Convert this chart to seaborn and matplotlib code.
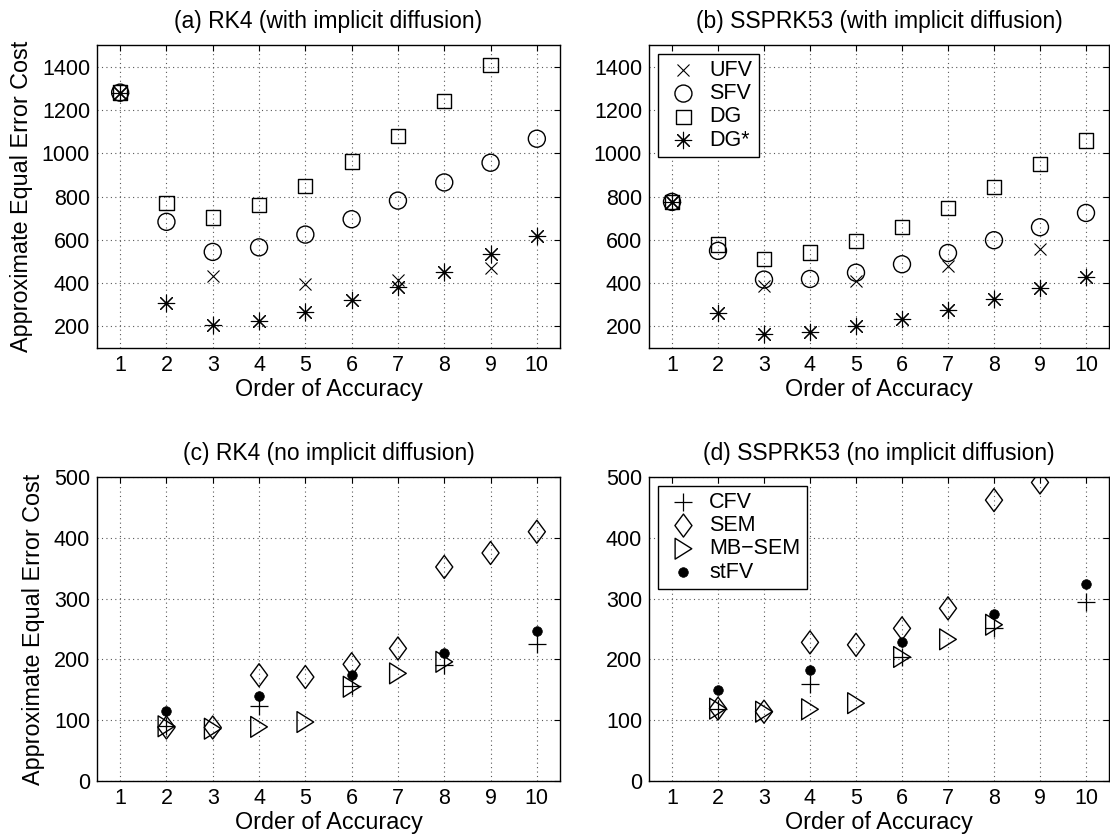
import numpy as np
import pandas as pd
import matplotlib
matplotlib.use("Agg")
import matplotlib.pyplot as plt
from matplotlib.path import Path
import seaborn as sns

nan = np.nan
orders = [1, 2, 3, 4, 5, 6, 7, 8, 9, 10]

# (a) RK4 with implicit diffusion
a_ufv = [1280, nan, 431, nan, 394, nan, 412, nan, 471, nan]
a_sfv = [1280, 683, 544, 565, 624, 695, 781, 865, 956, 1067]
a_dg = [1280, 769, 703, 761, 849, 962, 1079, 1241, 1408, nan]
a_dgs = [1280, 309, 205, 226, 266, 320, 382, 450, 533, 616]

# (b) SSPRK53 with implicit diffusion
b_ufv = [775, nan, 385, nan, 410, nan, 478, nan, 559, nan]
b_sfv = [775, 549, 416, 419, 448, 487, 539, 598, 658, 724]
b_dg = [775, 578, 511, 541, 595, 660, 748, 845, 950, 1059]
b_dgs = [775, 263, 166, 174, 203, 234, 277, 325, 377, 427]

# (c) RK4 no implicit diffusion
c_cfv = [nan, 90, nan, 123, nan, 156, nan, 190, nan, 226]
c_sem = [nan, 88, 88, 174, 171, 192, 218, 352, 375, 410]
c_mbsem = [nan, 90, 86, 89, 97, 155, 177, 196, nan, nan]
c_stfv = [nan, 115, nan, 140, nan, 174, nan, 210, nan, 247]

# (d) SSPRK53 no implicit diffusion
d_cfv = [nan, 119, nan, 160, nan, 204, nan, 251, nan, 295]
d_sem = [nan, 119, 114, 228, 224, 251, 284, 462, 491, nan]
d_mbsem = [nan, 119, 114, 118, 128, 204, 233, 257, nan, nan]
d_stfv = [nan, 150, nan, 183, nan, 228, nan, 274, nan, 324]

titles = ["(a) RK4 (with implicit diffusion)", "(b) SSPRK53 (with implicit diffusion)",
          "(c) RK4 (no implicit diffusion)", "(d) SSPRK53 (no implicit diffusion)"]
top_labels = ["UFV", "SFV", "DG", "DG*"]
bot_labels = ["CFV", "SEM", "MB\u2212SEM", "stFV"]
xlabel = "Order of Accuracy"
ylabel = "Approximate Equal Error Cost"

sns.set_style("white")
plt.rcParams["font.family"] = ["Liberation Sans", "DejaVu Sans"]
plt.rcParams["text.color"] = "black"
plt.rcParams["axes.labelcolor"] = "black"
plt.rcParams["xtick.color"] = "black"
plt.rcParams["ytick.color"] = "black"

W, H = 1110, 834
fig = plt.figure(figsize=(W / 100, H / 100), dpi=100)

def px_axes(l, t, r, b):
    return fig.add_axes([l / W, 1 - b / H, (r - l) / W, (b - t) / H])

axA = px_axes(97, 45, 560, 348)
axB = px_axes(649, 45, 1109, 348)
axC = px_axes(97, 477, 560, 781)
axD = px_axes(649, 477, 1109, 781)

diamond = Path([(-0.74, 0), (0, 1), (0.74, 0), (0, -1), (-0.74, 0)], closed=True)
tri = Path([(-0.8, 1), (0.8, 0), (-0.8, -1), (-0.8, 1)], closed=True)
asterisk = (8, 2, 0)

top_styles = [
    dict(marker="x", s=75, open=False, lw=0.8),
    dict(marker="o", s=150, open=True, lw=1.0),
    dict(marker="s", s=106, open=True, lw=1.0),
    dict(marker=asterisk, s=140, open=False, lw=0.8),
]
bot_styles = [
    dict(marker="+", s=165, open=False, lw=0.9),
    dict(marker=diamond, s=275, open=True, lw=1.0),
    dict(marker=tri, s=225, open=True, lw=1.0),
    dict(marker="o", s=48, open=False, filled=True, lw=0.5),
]

def draw(ax, series, styles, labels):
    for vals, st, lab in zip(series, styles, labels):
        df = pd.DataFrame({"order": orders, "cost": vals})
        kw = dict(marker=st["marker"], s=st["s"], linewidth=st["lw"], label=lab, legend=False)
        if st.get("filled"):
            kw.update(color="black", edgecolor="black")
        elif st["open"]:
            kw.update(facecolor="none", edgecolor="black")
        else:
            kw.update(color="black")
        sns.scatterplot(data=df, x="order", y="cost", ax=ax, **kw)

draw(axA, [a_ufv, a_sfv, a_dg, a_dgs], top_styles, top_labels)
draw(axB, [b_ufv, b_sfv, b_dg, b_dgs], top_styles, top_labels)
draw(axC, [c_cfv, c_sem, c_mbsem, c_stfv], bot_styles, bot_labels)
draw(axD, [d_cfv, d_sem, d_mbsem, d_stfv], bot_styles, bot_labels)

for i, ax in enumerate([axA, axB, axC, axD]):
    ax.set_xlim(0.5, 10.5)
    if i < 2:
        ax.set_ylim(100, 1500)
        ax.set_yticks(range(200, 1401, 200))
    else:
        ax.set_ylim(0, 500)
        ax.set_yticks(range(0, 501, 100))
    ax.set_xticks(orders)
    ax.grid(True, linestyle=(0, (1, 3)), color="0.35", linewidth=0.8)
    ax.set_axisbelow(True)
    ax.tick_params(direction="in", length=4, width=0.8, top=True, right=True,
                   labelsize=15.5, pad=5, colors="black")
    for sp in ax.spines.values():
        sp.set_visible(True)
        sp.set_color("black")
        sp.set_linewidth(1.0)
    ax.set_title(titles[i], fontsize=16.5, pad=12, color="black")
    ax.set_xlabel(xlabel, fontsize=16.8, labelpad=1.5, color="black")
    if i in (0, 2):
        ax.set_ylabel(ylabel, fontsize=16.8, labelpad=6.5, color="black")
    else:
        ax.set_ylabel("")

for ax in (axB, axD):
    leg = ax.legend(loc="upper left", fontsize=15.5, frameon=True, fancybox=False,
                    framealpha=1, edgecolor="black", borderpad=0.3, handletextpad=0.3,
                    handlelength=1.8, labelspacing=0.1, borderaxespad=0.4, scatterpoints=1)
    leg.get_frame().set_linewidth(1.0)
    for t in leg.get_texts():
        t.set_color("black")

fig.savefig("out.png", dpi=100)
